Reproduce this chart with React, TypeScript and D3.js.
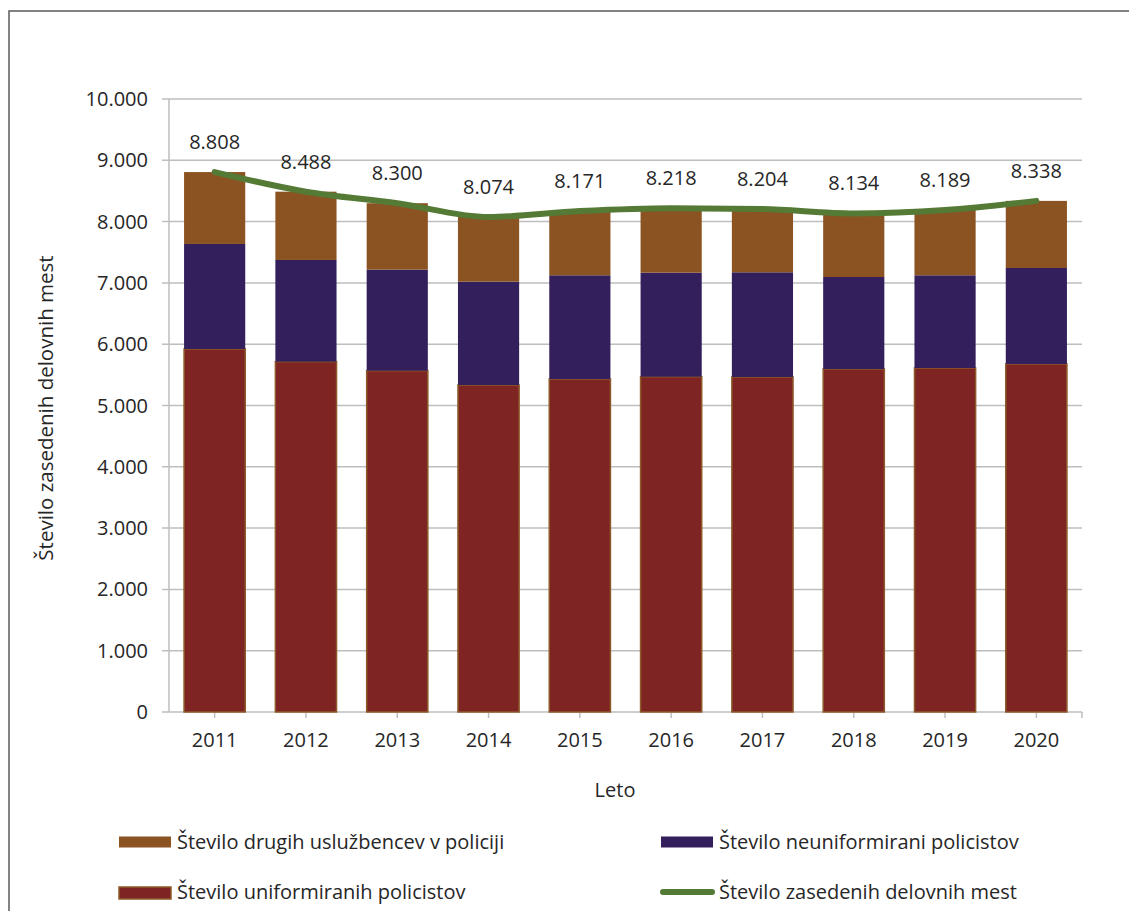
import React from "react";
import * as d3 from "d3";

const years = ["2011", "2012", "2013", "2014", "2015", "2016", "2017", "2018", "2019", "2020"];
const uniformed = [5922, 5715, 5568, 5334, 5432, 5470, 5465, 5595, 5612, 5677];
const nonUniformed = [1713, 1659, 1648, 1686, 1692, 1697, 1708, 1501, 1512, 1566];
const others = [1173, 1114, 1084, 1054, 1047, 1051, 1031, 1038, 1065, 1095];
const totals = [8808, 8488, 8300, 8074, 8171, 8218, 8204, 8134, 8189, 8338];
const yTicks = [0, 1000, 2000, 3000, 4000, 5000, 6000, 7000, 8000, 9000, 10000];

const seriesNames = {
  others: "Število drugih uslužbencev v policiji",
  nonUniformed: "Število neuniformirani policistov",
  uniformed: "Število uniformiranih policistov",
  total: "Število zasedenih delovnih mest",
};

const COL = {
  others: "#8B5322",
  nonUniformed: "#331F5C",
  uniformed: "#7E2524",
  uniformedStroke: "#8F5A2A",
  line: "#547A35",
  grid: "#BEBEBE",
  text: "#262626",
};

const FONT = "'Open Sans', sans-serif";

export default function App() {
  const W = 1129;
  const H = 911;
  const left = 169;
  const right = 1082;
  const top = 99;
  const bottom = 712;

  const x = d3.scaleBand<string>().domain(years).range([left, right]).paddingInner(0.33).paddingOuter(0.165);
  const y = d3.scaleLinear().domain([0, 10000]).range([bottom, top]);
  const loc = d3.formatLocale({ decimal: ",", thousands: ".", grouping: [3], currency: ["", "€"] });
  const fmt = loc.format(",d");

  const stack = years.map((yr, i) => {
    const u = uniformed[i];
    const n = nonUniformed[i];
    const o = others[i];
    return { yr, segs: [
      { key: "uniformed", y0: 0, y1: u },
      { key: "nonUniformed", y0: u, y1: u + n },
      { key: "others", y0: u + n, y1: u + n + o },
    ] };
  });

  const cx = (yr: string) => (x(yr) as number) + x.bandwidth() / 2;
  const line = d3.line<number>()
    .x((_, i) => cx(years[i]))
    .y((v) => y(v))
    .curve(d3.curveMonotoneX);

  const xTickPos = years.map((yr) => cx(yr)).concat([right]);

  return (
    <svg width={W} height={H} style={{ position: "absolute", left: 0, top: 0, background: "#fff" }}>
      <rect x={9} y={11} width={W + 20} height={H + 20} fill="#fff" stroke="#595959" strokeWidth={1.5} />
      {yTicks.map((t) => (
        <line key={t} x1={left - 7} x2={right} y1={y(t)} y2={y(t)} stroke={COL.grid} strokeWidth={1.5} />
      ))}
      <line x1={left} x2={left} y1={top} y2={bottom} stroke={COL.grid} strokeWidth={1.5} />
      {xTickPos.map((p, i) => (
        <line key={i} x1={p} x2={p} y1={bottom} y2={bottom + 6} stroke={COL.grid} strokeWidth={1.5} />
      ))}
      {yTicks.map((t) => (
        <text key={t} x={148} y={y(t)} dy="0.35em" textAnchor="end" fontFamily={FONT} fontSize={20} fill={COL.text}>
          {fmt(t)}
        </text>
      ))}
      {stack.map((d) => (
        <g key={d.yr}>
          {d.segs.map((s) => (
            <rect
              key={s.key}
              x={x(d.yr)}
              width={x.bandwidth()}
              y={y(s.y1)}
              height={y(s.y0) - y(s.y1)}
              fill={(COL as any)[s.key]}
              stroke={s.key === "uniformed" ? COL.uniformedStroke : "none"}
              strokeWidth={s.key === "uniformed" ? 1.5 : 0}
            />
          ))}
        </g>
      ))}
      <path d={line(totals) || ""} fill="none" stroke={COL.line} strokeWidth={6} strokeLinecap="round" strokeLinejoin="round" />
      {totals.map((v, i) => (
        <text key={i} x={cx(years[i])} y={y(v) - 23} textAnchor="middle" fontFamily={FONT} fontSize={20} fill={COL.text}>
          {fmt(v)}
        </text>
      ))}
      {years.map((yr) => (
        <text key={yr} x={cx(yr)} y={747} textAnchor="middle" fontFamily={FONT} fontSize={20} fill={COL.text}>
          {yr}
        </text>
      ))}
      <text x={615} y={797} textAnchor="middle" fontFamily={FONT} fontSize={20} fill={COL.text}>Leto</text>
      <text
        transform={`translate(53, 408) rotate(-90)`}
        textAnchor="middle"
        fontFamily={FONT}
        fontSize={20.5}
        fill={COL.text}
      >
        {seriesNames.total}
      </text>
      <g fontFamily={FONT} fontSize={20} fill={COL.text}>
        <rect x={119} y={836.5} width={52} height={11} fill={COL.others} />
        <text x={177} y={849}>{seriesNames.others}</text>
        <rect x={661} y={836.5} width={52} height={11} fill={COL.nonUniformed} />
        <text x={719} y={849}>{seriesNames.nonUniformed}</text>
        <rect x={119} y={887} width={52} height={12} fill={COL.uniformed} stroke={COL.uniformedStroke} strokeWidth={1.5} />
        <text x={177} y={899}>{seriesNames.uniformed}</text>
        <line x1={663} x2={712} y1={892} y2={892} stroke={COL.line} strokeWidth={6} strokeLinecap="round" />
        <text x={719} y={899}>{seriesNames.total}</text>
      </g>
    </svg>
  );
}
